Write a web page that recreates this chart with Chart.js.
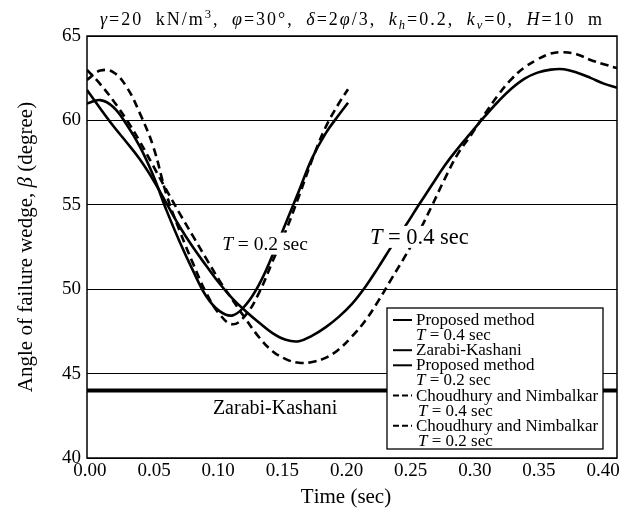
<!DOCTYPE html>
<html>
<head>
<meta charset="utf-8">
<script src="https://cdn.jsdelivr.net/npm/chart.js@4.4.0/dist/chart.umd.min.js"></script>
<style>
  html, body { margin: 0; padding: 0; background: #fff; }
</style>
</head>
<body>
<canvas id="chart" width="624" height="508"></canvas>
<script>
// time axis (sec)
const time = [0.00, 0.01, 0.02, 0.03, 0.04, 0.05, 0.06, 0.07, 0.08, 0.09,
              0.10, 0.11, 0.12, 0.13, 0.14, 0.15, 0.16, 0.17, 0.18, 0.19,
              0.20, 0.21, 0.22, 0.23, 0.24, 0.25, 0.26, 0.27, 0.28, 0.29,
              0.30, 0.31, 0.32, 0.33, 0.34, 0.35, 0.36, 0.37, 0.38, 0.39, 0.40];
const timeShort = [0.00, 0.01, 0.02, 0.03, 0.04, 0.05, 0.06, 0.07, 0.08, 0.09,
                   0.10, 0.11, 0.12, 0.13, 0.14, 0.15, 0.16, 0.17, 0.18, 0.19, 0.197];

// failure wedge angle (degree)
const proposedT04 = [61.8, 60.7, 59.65, 58.69, 57.68, 56.47, 55.09, 53.7, 52.48, 51.39,
                     50.34, 49.43, 48.68, 48.01, 47.4, 47.0, 46.92, 47.25, 47.74, 48.36,
                     49.13, 50.13, 51.31, 52.55, 53.71, 54.94, 56.14, 57.33, 58.35, 59.29,
                     60.22, 61.09, 61.86, 62.46, 62.83, 63.01, 63.03, 62.82, 62.52, 62.18, 61.93];
const proposedT02 = [61.0, 61.2, 60.78, 59.74, 58.43, 56.73, 54.67, 52.8, 51.1, 49.58,
                     48.7, 48.45, 49.09, 50.3, 52.01, 53.9, 55.83, 57.78, 59.22, 60.32, 61.05];
const choudhuryT04 = [63.0, 62.15, 61.15, 60.02, 58.73, 57.3, 55.87, 54.48, 53.14, 51.81,
                      50.51, 49.34, 48.21, 47.14, 46.33, 45.86, 45.64, 45.69, 45.93, 46.43,
                      47.2, 48.13, 49.32, 50.64, 51.94, 53.32, 54.89, 56.54, 58.03, 59.15,
                      60.35, 61.47, 62.42, 63.13, 63.61, 63.96, 64.04, 63.91, 63.58, 63.33, 63.1];
const choudhuryT02 = [62.4, 62.95, 62.85, 61.97, 60.4, 58.45, 55.6, 53.44, 51.53, 49.78,
                      48.52, 47.92, 48.49, 49.81, 51.64, 53.45, 55.52, 57.69, 59.58, 61.0, 61.85];
const zarabiTime = [0.00, 0.40];
const zarabiKashani = [44.0, 44.0];

const xTicks = [0.00, 0.05, 0.10, 0.15, 0.20, 0.25, 0.30, 0.35, 0.40];
const yTicks = [40, 45, 50, 55, 60, 65];

const FONT = '"Liberation Serif", "Times New Roman", serif';

const pts = (xs, ys) => ys.map((v, i) => ({ x: xs[i], y: v }));

// rich text: runs of {t, it, sub, sup}; sp = extra px per glyph, wsp = extra px per space
function fontFor(r, size) {
  const s = (r.sub || r.sup) ? size * 0.7 : size;
  return (r.it ? 'italic ' : '') + s + 'px ' + FONT;
}
function runsWidth(ctx, runs, size, sp = 0, wsp = 0) {
  let w = 0;
  runs.forEach(r => {
    ctx.font = fontFor(r, size);
    for (const ch of r.t) w += ctx.measureText(ch).width + sp + (ch === ' ' ? wsp : 0);
  });
  return w;
}
function drawRuns(ctx, runs, x, y, size, sp = 0, wsp = 0) {
  ctx.textBaseline = 'alphabetic';
  ctx.textAlign = 'left';
  runs.forEach(r => {
    ctx.font = fontFor(r, size);
    const dy = r.sup ? -size * 0.4 : r.sub ? size * 0.22 : 0;
    for (const ch of r.t) {
      ctx.fillText(ch, x, y + dy);
      x += ctx.measureText(ch).width + sp + (ch === ' ' ? wsp : 0);
    }
  });
}

const titleRuns = [
  { t: 'γ', it: true }, { t: '=20 kN/m' }, { t: '3', sup: true }, { t: ', ' },
  { t: 'φ', it: true }, { t: '=30°, ' },
  { t: 'δ', it: true }, { t: '=2' }, { t: 'φ', it: true }, { t: '/3, ' },
  { t: 'k', it: true }, { t: 'h', it: true, sub: true }, { t: '=0.2, ' },
  { t: 'k', it: true }, { t: 'v', it: true, sub: true }, { t: '=0, ' },
  { t: 'H', it: true }, { t: '=10 m' }
];
const yTitleRuns = [{ t: 'Angle of failure wedge, ' }, { t: 'β', it: true }, { t: ' (degree)' }];
const xTitleRuns = [{ t: 'Time (sec)' }];
const tRuns = s => [{ t: 'T', it: true }, { t: ' = ' + s + ' sec' }];

const legendRows = [
  { runs: [{ t: 'Proposed method' }], dash: [] },
  { runs: tRuns('0.4') },
  { runs: [{ t: 'Zarabi-Kashani' }], dash: [] },
  { runs: [{ t: 'Proposed method' }], dash: [] },
  { runs: tRuns('0.2') },
  { runs: [{ t: 'Choudhury and Nimbalkar' }], dash: [6, 3] },
  { runs: tRuns('0.4'), indent: 2 },
  { runs: [{ t: 'Choudhury and Nimbalkar' }], dash: [6, 3] },
  { runs: tRuns('0.2'), indent: 2 }
];

const decorations = {
  id: 'decorations',
  beforeDatasetsDraw(chart) {
    const { ctx, chartArea: a } = chart;
    ctx.save();
    ctx.strokeStyle = '#000';
    ctx.lineWidth = 1.5;
    ctx.strokeRect(a.left, a.top, a.right - a.left, a.bottom - a.top);
    ctx.restore();
  },
  afterDatasetsDraw(chart) {
    const { ctx, chartArea: a, scales: { x, y } } = chart;
    ctx.save();
    ctx.fillStyle = '#000';

    // curve labels, the T ones sit on a white patch over the curves
    const labels = [
      { runs: tRuns('0.2'), t: 0.102, v: 52.7, size: 19.5, bg: true },
      { runs: tRuns('0.4'), t: 0.2135, v: 53.1, size: 22.5, bg: true },
      { runs: [{ t: 'Zarabi-Kashani' }], t: 0.095, v: 43.0, size: 20, bg: false }
    ];
    labels.forEach(l => {
      const px = x.getPixelForValue(l.t), py = y.getPixelForValue(l.v);
      const w = runsWidth(ctx, l.runs, l.size);
      if (l.bg) {
        ctx.fillStyle = '#fff';
        ctx.fillRect(px - 3, py - 11, w + 6, 22);
        ctx.fillStyle = '#000';
      }
      drawRuns(ctx, l.runs, px, py + l.size * 0.33, l.size);
    });

    // legend box
    const lw = 216, lh = 141;
    const lx = a.right - 14 - lw, ly = a.bottom - 9 - lh;
    ctx.fillStyle = '#fff';
    ctx.fillRect(lx, ly, lw, lh);
    ctx.strokeStyle = '#000';
    ctx.lineWidth = 1.3;
    ctx.strokeRect(lx, ly, lw, lh);
    ctx.fillStyle = '#000';
    legendRows.forEach((r, i) => {
      const cy = ly + 12 + i * 15.1;
      if (r.dash) {
        ctx.setLineDash(r.dash);
        ctx.lineWidth = 2;
        ctx.beginPath();
        ctx.moveTo(lx + 6, cy);
        ctx.lineTo(lx + 25, cy);
        ctx.stroke();
        ctx.setLineDash([]);
      }
      drawRuns(ctx, r.runs, lx + 29 + (r.indent || 0), cy + 5, 17);
    });
    ctx.restore();
  },
  afterDraw(chart) {
    const { ctx, chartArea: a } = chart;
    ctx.save();
    ctx.fillStyle = '#000';
    const cx = (a.left + a.right) / 2;
    let w = runsWidth(ctx, titleRuns, 18, 2.0, 6);
    drawRuns(ctx, titleRuns, cx - w / 2, 25, 18, 2.0, 6);

    w = runsWidth(ctx, xTitleRuns, 21);
    drawRuns(ctx, xTitleRuns, cx - 6 - w / 2, 503, 21);

    ctx.translate(32, (a.top + a.bottom) / 2);
    ctx.rotate(-Math.PI / 2);
    w = runsWidth(ctx, yTitleRuns, 21);
    drawRuns(ctx, yTitleRuns, -w / 2, 0, 21);
    ctx.restore();
  }
};

const line = (label, xs, ys, dash, width) => ({
  label,
  data: pts(xs, ys),
  borderColor: '#000',
  borderWidth: width,
  borderDash: dash,
  pointRadius: 0,
  tension: 0.4,
  fill: false
});

const tickFont = { family: FONT, size: 19 };

new Chart(document.getElementById('chart'), {
  type: 'line',
  data: {
    datasets: [
      line('Proposed method T = 0.4 sec', time, proposedT04, [], 2.6),
      line('Zarabi-Kashani', zarabiTime, zarabiKashani, [], 4),
      line('Proposed method T = 0.2 sec', timeShort, proposedT02, [], 2.6),
      line('Choudhury and Nimbalkar T = 0.4 sec', time, choudhuryT04, [8, 5], 2.6),
      line('Choudhury and Nimbalkar T = 0.2 sec', timeShort, choudhuryT02, [8, 5], 2.6)
    ]
  },
  options: {
    responsive: false,
    animation: false,
    layout: { padding: { top: 36, right: 7, left: 0, bottom: 0 }, autoPadding: false },
    plugins: { legend: { display: false }, tooltip: { enabled: false } },
    scales: {
      // data axis: spans the frame
      x: {
        type: 'linear', min: 0, max: 0.4,
        afterFit: s => { s.height = 0; s.paddingLeft = 0; s.paddingRight = 0; },
        grid: { display: false, drawTicks: false },
        border: { display: false },
        ticks: { display: false }
      },
      // label axis: the printed tick labels sit slightly inside the frame
      xLabels: {
        type: 'linear', position: 'bottom', min: -0.0023, max: 0.4108,
        afterFit: s => { s.height = 50; s.paddingLeft = 0; s.paddingRight = 0; },
        afterBuildTicks: s => { s.ticks = xTicks.map(v => ({ value: v })); },
        grid: { display: false, drawTicks: false },
        border: { display: false },
        ticks: { color: '#000', font: tickFont, padding: 2, maxRotation: 0, autoSkip: false,
                 callback: v => v.toFixed(2) }
      },
      y: {
        type: 'linear', min: 40, max: 65,
        afterFit: s => { s.width = 87; s.paddingTop = 0; s.paddingBottom = 0; },
        afterBuildTicks: s => { s.ticks = yTicks.map(v => ({ value: v })); },
        grid: { color: '#000', lineWidth: 1, drawTicks: false },
        border: { display: false },
        ticks: { color: '#000', font: tickFont, padding: 6 }
      }
    }
  },
  plugins: [decorations]
});
</script>
</body>
</html>
